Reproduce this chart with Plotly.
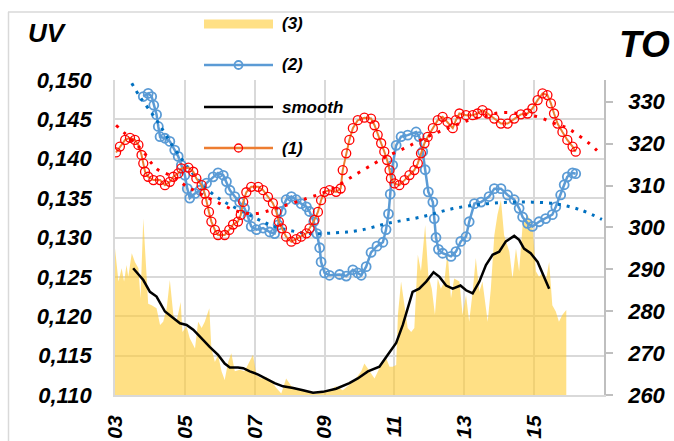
import plotly.graph_objects as go

# ---------------- data ----------------
x_tick_vals = [2003, 2005, 2007, 2009, 2011, 2013, 2015]
x_tick_text = ["03", "05", "07", "09", "11", "13", "15"]
uv_tick_vals = [0.110, 0.115, 0.120, 0.125, 0.130, 0.135, 0.140, 0.145, 0.150]
uv_tick_text = ["0,110", "0,115", "0,120", "0,125", "0,130", "0,135", "0,140", "0,145", "0,150"]
to_tick_vals = [260, 270, 280, 290, 300, 310, 320, 330]
to_tick_text = ["260", "270", "280", "290", "300", "310", "320", "330"]
legend_labels = ["(3)", "(2)", "smooth", "(1)"]

# series (1) - TO axis
s1_x = [2003.03, 2003.14, 2003.29, 2003.43, 2003.57, 2003.67, 2003.76, 2003.81, 2003.86, 2003.95,
        2004.10, 2004.29, 2004.43, 2004.57, 2004.67, 2004.81, 2004.90, 2005.10, 2005.24, 2005.33,
        2005.48, 2005.57, 2005.62, 2005.69, 2005.76, 2005.86, 2005.95, 2006.14, 2006.27, 2006.38,
        2006.52, 2006.60, 2006.67, 2006.76, 2006.90, 2007.10, 2007.24, 2007.38, 2007.52, 2007.62,
        2007.69, 2007.78, 2007.90, 2008.05, 2008.19, 2008.33, 2008.48, 2008.57, 2008.71, 2008.81,
        2008.90, 2009.00, 2009.14, 2009.33, 2009.46, 2009.52, 2009.62, 2009.71, 2009.81, 2009.95,
        2010.14, 2010.33, 2010.43, 2010.52, 2010.62, 2010.71, 2010.79, 2010.86, 2010.90, 2011.00,
        2011.14, 2011.29, 2011.43, 2011.57, 2011.67, 2011.76, 2011.86, 2011.95, 2012.10, 2012.24,
        2012.38, 2012.52, 2012.67, 2012.76, 2012.86, 2013.05, 2013.24, 2013.38, 2013.52, 2013.67,
        2013.86, 2014.05, 2014.24, 2014.43, 2014.62, 2014.81, 2014.95, 2015.10, 2015.24, 2015.38,
        2015.48, 2015.57, 2015.67, 2015.81, 2015.95, 2016.10, 2016.19]
s1_y = [317.9, 319.3, 320.9, 321.4, 320.9, 319.7, 317.3, 315.3, 313.3, 312.1,
        311.3, 311.3, 310.1, 310.9, 312.1, 312.9, 314.1, 314.3, 313.3, 311.7,
        310.1, 308.1, 306.1, 303.7, 301.4, 299.4, 298.2, 298.2, 299.4, 300.7,
        301.4, 303.0, 306.1, 308.4, 309.7, 309.7, 308.9, 307.3, 305.8, 303.7,
        301.4, 299.8, 297.8, 296.6, 297.2, 297.8, 298.6, 299.8, 301.8, 303.7,
        306.5, 308.5, 308.9, 308.5, 309.3, 313.7, 317.7, 320.9, 323.7, 325.6,
        326.2, 326.0, 324.4, 322.1, 320.1, 318.1, 316.1, 313.7, 311.7, 310.5,
        310.1, 311.3, 312.5, 313.7, 315.3, 317.7, 320.1, 321.6, 323.7, 325.6,
        326.4, 325.2, 323.7, 325.6, 327.2, 326.8, 326.8, 327.2, 328.0, 327.2,
        326.0, 324.8, 324.8, 326.0, 327.0, 327.2, 328.4, 330.4, 332.0, 331.6,
        329.6, 327.2, 324.8, 322.8, 320.9, 319.3, 318.1]

# trend of (1)
s1_trend_x = [2003.03, 2003.48, 2003.81, 2004.05, 2004.24, 2004.67, 2005.00, 2005.43, 2006.00, 2006.57,
              2007.05, 2007.62, 2008.48, 2009.14, 2009.86, 2010.43, 2010.76, 2011.29, 2011.76, 2012.38,
              2013.10, 2013.67, 2014.05, 2014.60, 2015.10, 2015.60, 2015.95, 2016.20, 2016.57, 2016.94]
s1_trend_y = [324.4, 320.9, 318.1, 315.3, 313.7, 312.1, 310.1, 308.1, 305.7, 303.7,
              303.3, 304.6, 306.9, 308.9, 312.5, 315.3, 316.9, 318.9, 320.9, 323.2,
              325.5, 326.8, 327.4, 327.2, 326.4, 324.8, 323.7, 322.4, 320.1, 317.3]

# series (2) - UV axis
s2_x = [2003.81, 2003.95, 2004.05, 2004.11, 2004.19, 2004.24, 2004.29, 2004.43, 2004.57, 2004.71,
        2004.81, 2004.90, 2005.00, 2005.07, 2005.14, 2005.29, 2005.43, 2005.62, 2005.81, 2005.95,
        2006.10, 2006.19, 2006.29, 2006.43, 2006.57, 2006.71, 2006.81, 2006.90, 2007.05, 2007.24,
        2007.43, 2007.57, 2007.67, 2007.76, 2007.90, 2008.05, 2008.19, 2008.33, 2008.48, 2008.57,
        2008.69, 2008.78, 2008.86, 2008.90, 2009.00, 2009.14, 2009.43, 2009.62, 2009.81, 2009.95,
        2010.05, 2010.19, 2010.33, 2010.50, 2010.67, 2010.76, 2010.83, 2010.88, 2010.95, 2011.05,
        2011.19, 2011.38, 2011.62, 2011.71, 2011.81, 2011.88, 2011.97, 2012.10, 2012.14, 2012.19,
        2012.26, 2012.38, 2012.62, 2012.76, 2012.90, 2013.05, 2013.14, 2013.29, 2013.48, 2013.71,
        2013.86, 2014.05, 2014.24, 2014.43, 2014.57, 2014.67, 2014.81, 2014.95, 2015.14, 2015.33,
        2015.52, 2015.62, 2015.76, 2015.86, 2015.95, 2016.10, 2016.19]
s2_y = [0.1479, 0.1483, 0.1479, 0.1468, 0.1456, 0.1441, 0.1428, 0.1426, 0.1422, 0.1411,
        0.1403, 0.1392, 0.1379, 0.1362, 0.1350, 0.1356, 0.1360, 0.1369, 0.1377, 0.1382,
        0.1379, 0.1371, 0.1360, 0.1352, 0.1345, 0.1337, 0.1326, 0.1314, 0.1310, 0.1312,
        0.1307, 0.1305, 0.1316, 0.1333, 0.1348, 0.1352, 0.1348, 0.1343, 0.1339, 0.1333,
        0.1320, 0.1305, 0.1287, 0.1269, 0.1255, 0.1252, 0.1253, 0.1251, 0.1259, 0.1255,
        0.1252, 0.1263, 0.1281, 0.1289, 0.1294, 0.1310, 0.1330, 0.1355, 0.1392, 0.1417,
        0.1428, 0.1430, 0.1434, 0.1428, 0.1409, 0.1386, 0.1358, 0.1345, 0.1324, 0.1300,
        0.1285, 0.1280, 0.1276, 0.1282, 0.1295, 0.1301, 0.1320, 0.1343, 0.1345, 0.1352,
        0.1362, 0.1362, 0.1354, 0.1348, 0.1337, 0.1326, 0.1318, 0.1314, 0.1320, 0.1324,
        0.1329, 0.1339, 0.1354, 0.1367, 0.1377, 0.1382, 0.1381]

# trend of (2)
s2_trend_x = [2003.48, 2003.71, 2004.19, 2004.67, 2005.14, 2005.62, 2006.10, 2006.57, 2007.05, 2007.50,
              2008.00, 2008.57, 2009.33, 2010.00, 2010.81, 2011.76, 2012.71, 2013.67, 2014.62, 2015.57,
              2016.33, 2016.94]
s2_trend_y = [0.1496, 0.1479, 0.1449, 0.1415, 0.1386, 0.1362, 0.1346, 0.1335, 0.1324, 0.1315,
              0.1309, 0.1305, 0.1306, 0.1309, 0.1318, 0.1326, 0.1337, 0.1343, 0.1345, 0.1343,
              0.1335, 0.1323]

# series (3) - UV axis, area
s3_x = [2003.00, 2003.10, 2003.19, 2003.26, 2003.33, 2003.38, 2003.48, 2003.57, 2003.67, 2003.73,
        2003.81, 2003.89, 2003.95, 2004.05, 2004.19, 2004.29, 2004.38, 2004.48, 2004.57, 2004.67,
        2004.76, 2004.88, 2004.93, 2005.05, 2005.14, 2005.29, 2005.38, 2005.48, 2005.57, 2005.70,
        2005.76, 2005.86, 2005.95, 2006.05, 2006.14, 2006.24, 2006.33, 2006.43, 2006.57, 2006.71,
        2006.86, 2006.95, 2007.05, 2007.19, 2007.33, 2007.48, 2007.62, 2007.76, 2007.90, 2008.05,
        2008.19, 2008.38, 2008.57, 2008.76, 2008.95, 2009.14, 2009.33, 2009.52, 2009.71, 2009.86,
        2010.05, 2010.14, 2010.29, 2010.43, 2010.57, 2010.76, 2010.86, 2010.95, 2011.05, 2011.10,
        2011.19, 2011.29, 2011.38, 2011.48, 2011.57, 2011.67, 2011.76, 2011.88, 2011.97, 2012.07,
        2012.16, 2012.24, 2012.33, 2012.43, 2012.52, 2012.62, 2012.71, 2012.86, 2012.95, 2013.05,
        2013.14, 2013.24, 2013.33, 2013.43, 2013.52, 2013.67, 2013.76, 2013.86, 2013.95, 2014.05,
        2014.14, 2014.29, 2014.38, 2014.48, 2014.57, 2014.67, 2014.81, 2014.95, 2015.05, 2015.14,
        2015.24, 2015.33, 2015.43, 2015.52, 2015.62, 2015.71, 2015.81, 2015.92]
s3_y = [0.1286, 0.1244, 0.1261, 0.1244, 0.1265, 0.1250, 0.1280, 0.1269, 0.1261, 0.1223,
        0.1324, 0.1269, 0.1216, 0.1214, 0.1210, 0.1189, 0.1193, 0.1210, 0.1246, 0.1202,
        0.1193, 0.1218, 0.1180, 0.1187, 0.1172, 0.1159, 0.1193, 0.1185, 0.1193, 0.1210,
        0.1159, 0.1142, 0.1151, 0.1130, 0.1119, 0.1142, 0.1153, 0.1130, 0.1132, 0.1130,
        0.1142, 0.1151, 0.1125, 0.1121, 0.1123, 0.1117, 0.1109, 0.1102, 0.1121, 0.1111,
        0.1109, 0.1106, 0.1104, 0.1102, 0.1104, 0.1106, 0.1111, 0.1106, 0.1113, 0.1119,
        0.1130, 0.1140, 0.1130, 0.1121, 0.1134, 0.1147, 0.1136, 0.1136, 0.1138, 0.1202,
        0.1244, 0.1214, 0.1185, 0.1180, 0.1185, 0.1278, 0.1257, 0.1316, 0.1252, 0.1235,
        0.1202, 0.1248, 0.1235, 0.1244, 0.1282, 0.1223, 0.1248, 0.1244, 0.1202, 0.1227,
        0.1193, 0.1231, 0.1274, 0.1231, 0.1244, 0.1193, 0.1235, 0.1303, 0.1329, 0.1348,
        0.1303, 0.1282, 0.1248, 0.1286, 0.1257, 0.1316, 0.1329, 0.1316, 0.1257, 0.1250,
        0.1255, 0.1244, 0.1269, 0.1214, 0.1206, 0.1193, 0.1202, 0.1208]

# smooth - UV axis
smooth_x = [2003.52, 2003.81, 2004.00, 2004.19, 2004.43, 2004.67, 2004.86, 2005.05, 2005.24, 2005.48,
            2005.71, 2005.95, 2006.14, 2006.29, 2006.52, 2006.67, 2006.86, 2007.10, 2007.33, 2007.57,
            2007.81, 2008.10, 2008.38, 2008.67, 2008.95, 2009.33, 2009.71, 2009.95, 2010.24, 2010.57,
            2010.81, 2011.05, 2011.24, 2011.38, 2011.52, 2011.71, 2011.91, 2012.12, 2012.29, 2012.48,
            2012.67, 2012.89, 2013.05, 2013.24, 2013.43, 2013.62, 2013.81, 2014.00, 2014.19, 2014.43,
            2014.57, 2014.71, 2014.90, 2015.10, 2015.24, 2015.43]
smooth_y = [0.1261, 0.1246, 0.1231, 0.1225, 0.1206, 0.1197, 0.1191, 0.1189, 0.1183, 0.1172,
            0.1161, 0.1151, 0.1140, 0.1135, 0.1135, 0.1134, 0.1130, 0.1126, 0.1121, 0.1115,
            0.1111, 0.1109, 0.1106, 0.1103, 0.1104, 0.1108, 0.1115, 0.1121, 0.1130, 0.1136,
            0.1151, 0.1166, 0.1189, 0.1210, 0.1231, 0.1235, 0.1244, 0.1256, 0.1250, 0.1239,
            0.1235, 0.1239, 0.1233, 0.1229, 0.1244, 0.1265, 0.1278, 0.1282, 0.1295, 0.1302,
            0.1297, 0.1286, 0.1280, 0.1269, 0.1255, 0.1235]

# ---------------- styles ----------------
W, H = 674, 441
PLOT_L, PLOT_R, PLOT_T, PLOT_B = 115, 604, 80, 395          # plot area in window pixels
ML, MR, MT, MB = PLOT_L, W - PLOT_R, PLOT_T, H - PLOT_B
PW, PH = PLOT_R - PLOT_L, PLOT_B - PLOT_T

BLUE = "#5B9BD5"
BLUE_TREND = "#0070C0"
RED = "#FF0000"
ORANGE = "#ED7D31"
AREA_FILL = "rgba(255,204,51,0.6)"
AREA_LEG = "#FFE085"
GRID = "#D9D9D9"
FONT = "Liberation Sans, Arial, sans-serif"


def px(x):
    return (x - PLOT_L) / PW


def py(y):
    return (PLOT_B - y) / PH


fig = go.Figure()

fig.add_trace(go.Scatter(x=s3_x, y=s3_y, mode="lines", fill="tozeroy",
                         line=dict(width=0, color=AREA_FILL), fillcolor=AREA_FILL,
                         name=legend_labels[0], yaxis="y"))
fig.add_trace(go.Scatter(x=smooth_x, y=smooth_y, mode="lines",
                         line=dict(color="black", width=2.5), name=legend_labels[2], yaxis="y"))
fig.add_trace(go.Scatter(x=s2_x, y=s2_y, mode="lines+markers",
                         line=dict(color=BLUE, width=2.5),
                         marker=dict(symbol="circle-open", size=9, color=BLUE, line=dict(width=1.8)),
                         name=legend_labels[1], yaxis="y"))
fig.add_trace(go.Scatter(x=s2_trend_x, y=s2_trend_y, mode="lines", line_shape="spline",
                         line=dict(color=BLUE_TREND, width=3, dash="3px,6px"), yaxis="y"))
fig.add_trace(go.Scatter(x=s1_x, y=s1_y, mode="lines+markers",
                         line=dict(color=ORANGE, width=2),
                         marker=dict(symbol="circle-open", size=9, color=RED, line=dict(width=1.3)),
                         name=legend_labels[3], yaxis="y2"))
fig.add_trace(go.Scatter(x=s1_trend_x, y=s1_trend_y, mode="lines", line_shape="spline",
                         line=dict(color=RED, width=3, dash="3px,7px"), yaxis="y2"))

ytickfont = dict(family=FONT, size=22, color="black", weight="bold", style="italic")
xtickfont = dict(family=FONT, size=21, color="black", weight="bold", style="italic")

shapes = [
    # outer chart border
    dict(type="line", xref="paper", yref="paper", x0=px(8), x1=px(700), y0=py(12), y1=py(12),
         line=dict(color=GRID, width=1.5), layer="below"),
    dict(type="line", xref="paper", yref="paper", x0=px(8.5), x1=px(8.5), y0=py(12), y1=py(460),
         line=dict(color=GRID, width=1.5), layer="below"),
]
annotations = [
    dict(text="UV", xref="paper", yref="paper", x=px(47), y=py(33), showarrow=False,
         xanchor="center", yanchor="middle",
         font=dict(family=FONT, size=26, color="black", weight="bold", style="italic")),
    dict(text="TO", xref="paper", yref="paper", x=px(644), y=py(45), showarrow=False,
         xanchor="center", yanchor="middle",
         font=dict(family=FONT, size=37, color="black", weight="bold", style="italic")),
]

# manual legend
leg_rows = [24, 65, 107, 148]
lx0, lx1, ltx = 204, 273, 280
# (3) area swatch
shapes.append(dict(type="rect", xref="paper", yref="paper", x0=px(lx0), x1=px(lx1),
                   y0=py(leg_rows[0] - 4.5), y1=py(leg_rows[0] + 4.5),
                   fillcolor=AREA_LEG, line=dict(width=0), layer="above"))
# (2)
shapes.append(dict(type="line", xref="paper", yref="paper", x0=px(lx0), x1=px(lx1),
                   y0=py(leg_rows[1]), y1=py(leg_rows[1]), line=dict(color=BLUE, width=2.5), layer="above"))
shapes.append(dict(type="circle", xref="paper", yref="paper", xsizemode="pixel", ysizemode="pixel",
                   xanchor=px((lx0 + lx1) / 2), yanchor=py(leg_rows[1]), x0=-4, x1=4, y0=-4, y1=4,
                   line=dict(color=BLUE, width=1.8), layer="above"))
# smooth
shapes.append(dict(type="line", xref="paper", yref="paper", x0=px(lx0), x1=px(lx1),
                   y0=py(leg_rows[2]), y1=py(leg_rows[2]), line=dict(color="black", width=2.5), layer="above"))
# (1)
shapes.append(dict(type="line", xref="paper", yref="paper", x0=px(lx0), x1=px(lx1),
                   y0=py(leg_rows[3]), y1=py(leg_rows[3]), line=dict(color=ORANGE, width=2.5), layer="above"))
shapes.append(dict(type="circle", xref="paper", yref="paper", xsizemode="pixel", ysizemode="pixel",
                   xanchor=px((lx0 + lx1) / 2), yanchor=py(leg_rows[3]), x0=-4, x1=4, y0=-4, y1=4,
                   line=dict(color=RED, width=1.3), layer="above"))
for lab, ry in zip(legend_labels, leg_rows):
    annotations.append(dict(text=lab, xref="paper", yref="paper", x=px(ltx), y=py(ry),
                            showarrow=False, xanchor="left", yanchor="middle",
                            font=dict(family=FONT, size=17, color="black", weight="bold", style="italic")))

fig.update_layout(
    width=W, height=H,
    margin=dict(l=ML, r=MR, t=MT, b=MB, pad=0, autoexpand=False),
    paper_bgcolor="white", plot_bgcolor="white",
    showlegend=False,
    xaxis=dict(range=[2003, 2017], tickmode="array", tickvals=x_tick_vals, ticktext=x_tick_text,
               tickangle=-90, tickfont=xtickfont, showgrid=True, gridcolor=GRID, gridwidth=1.8,
               zeroline=False, showline=True, linecolor=GRID, linewidth=1.8, ticks="",
               ticklabelstandoff=10, automargin=False),
    yaxis=dict(range=[0.110, 0.150], tickmode="array", tickvals=uv_tick_vals, ticktext=uv_tick_text,
               tickfont=ytickfont, showgrid=True, gridcolor=GRID, gridwidth=1.8, zeroline=False,
               showline=True, linecolor=GRID, linewidth=1.8, ticks="", ticklabelstandoff=17,
               automargin=False),
    yaxis2=dict(range=[260, 335.2], overlaying="y", side="right", tickmode="array",
                tickvals=to_tick_vals, ticktext=to_tick_text, tickfont=ytickfont, showgrid=False,
                zeroline=False, showline=True, linecolor="#BFBFBF", linewidth=1.5, ticks="outside",
                ticklen=7, tickcolor="#BFBFBF", tickwidth=1.5, ticklabelstandoff=11,
                automargin=False),
    shapes=shapes,
    annotations=annotations,
)

# remove the browser's default 8px body margin so the figure sits at the window origin
fig.write_html("out.html", config={"displayModeBar": False},
               post_script="document.body.style.margin='0px';")
